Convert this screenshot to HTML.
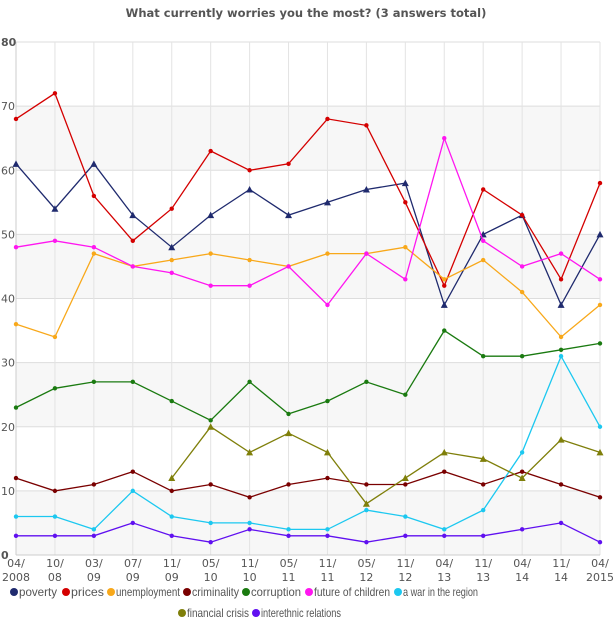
<!DOCTYPE html>
<html><head><meta charset="utf-8"><style>
body{margin:0;background:#fff;font-family:"Liberation Sans","DejaVu Sans",sans-serif;}
svg text{font-family:"DejaVu Sans","Liberation Sans",sans-serif;}
svg text.lg{font-family:"Liberation Sans",sans-serif;}
</style></head><body>
<svg id="c" width="613" height="629" xmlns="http://www.w3.org/2000/svg"></svg>
<script>
const s=document.getElementById('c');
const X0=16,X1=600,Y0=555,YT=42;
const st=(X1-X0)/15;
const x=i=>X0+i*st, y=v=>Y0-v*(Y0-YT)/80;
let h='';
h+=`<text x="306" y="17" text-anchor="middle" font-size="11.5" font-weight="bold" fill="#555">What currently worries you the most? (3 answers total)</text>`;
for(const b of [[60,70],[40,50],[20,30],[0,10]]) h+=`<rect x="${X0}" y="${y(b[1])}" width="${X1-X0}" height="${y(b[0])-y(b[1])}" fill="#f7f7f7"/>`;
for(let v=10;v<=80;v+=10) h+=`<line x1="${X0}" x2="${X1}" y1="${y(v)}" y2="${y(v)}" stroke="#ddd"/>`;
for(let i=1;i<16;i++) h+=`<line x1="${x(i)}" x2="${x(i)}" y1="${YT}" y2="${Y0}" stroke="#e3e3e3"/>`;
h+=`<line x1="${X0}" x2="${X0}" y1="${YT}" y2="${Y0}" stroke="#ccc"/><line x1="${X0}" x2="${X1}" y1="${Y0}" y2="${Y0}" stroke="#ccc"/>`;
for(let v=0;v<=80;v+=10) h+=`<text x="1" y="${y(v)+4}" font-size="11" fill="#555" ${v==0||v==80?'font-weight="bold"':''}>${v}</text>`;
const lab=[["04/","2008"],["10/","08"],["03/","09"],["07/","09"],["11/","09"],["05/","10"],["11/","10"],["05/","11"],["11/","11"],["05/","12"],["11/","12"],["04/","13"],["11/","13"],["04/","14"],["11/","14"],["04/","2015"]];
lab.forEach((l,i)=>{h+=`<text x="${x(i)}" y="567" text-anchor="middle" font-size="11" fill="#555">${l[0]}</text><text x="${x(i)}" y="581" text-anchor="middle" font-size="11" fill="#555">${l[1]}</text>`;});
const S=[
["poverty","#1f2a6e",[61,54,61,53,48,53,57,53,55,57,58,39,50,53,39,50],0,"t"],
["prices","#d40000",[68,72,56,49,54,63,60,61,68,67,55,42,57,53,43,58],0,"c"],
["unemployment","#f8a81a",[36,34,47,45,46,47,46,45,47,47,48,43,46,41,34,39],0,"c"],
["criminality","#7a0000",[12,10,11,13,10,11,9,11,12,11,11,13,11,13,11,9],0,"c"],
["corruption","#1a7a10",[23,26,27,27,24,21,27,22,24,27,25,35,31,31,32,33],0,"c"],
["future of children","#ff16f0",[48,49,48,45,44,42,42,45,39,47,43,65,49,45,47,43],0,"c"],
["a war in the region","#1cc8f0",[6,6,4,10,6,5,5,4,4,7,6,4,7,16,31,20],0,"c"],
["financial crisis","#7f7f0a",[12,20,16,19,16,8,12,16,15,12,18,16],4,"t"],
["interethnic relations","#6010f0",[3,3,3,5,3,2,4,3,3,2,3,3,3,4,5,2],0,"c"]];
for(const [n,c,d,o,m] of S){
 const p=d.map((v,i)=>x(i+o).toFixed(1)+","+y(v).toFixed(1)).join(" ");
 h+=`<polyline points="${p}" fill="none" stroke="${c}" stroke-width="1.3"/>`;
 d.forEach((v,i)=>{const cx=x(i+o),cy=y(v);
  if(m=="t")h+=`<polygon points="${cx},${cy-3.5} ${cx+3.5},${cy+3} ${cx-3.5},${cy+3}" fill="${c}"/>`;
  else h+=`<circle cx="${cx}" cy="${cy}" r="2.2" fill="${c}"/>`;});
}
const L1=[[14,0,38],[66,1,33],[111,2,64],[187,3,47],[246,4,50],[309,5,76],[398,6,75]];
L1.forEach(([lx,k,w])=>{h+=`<circle cx="${lx}" cy="592" r="4" fill="${S[k][1]}"/><text class="lg" x="${lx+5}" y="596" font-size="12" fill="#555" textLength="${w}" lengthAdjust="spacingAndGlyphs">${S[k][0]}</text>`;});
[[182,7,62],[256,8,80]].forEach(([lx,k,w])=>{h+=`<circle cx="${lx}" cy="613" r="4" fill="${S[k][1]}"/><text class="lg" x="${lx+5}" y="617" font-size="12" fill="#555" textLength="${w}" lengthAdjust="spacingAndGlyphs">${S[k][0]}</text>`;});
s.innerHTML=h;
</script>
</body></html>
